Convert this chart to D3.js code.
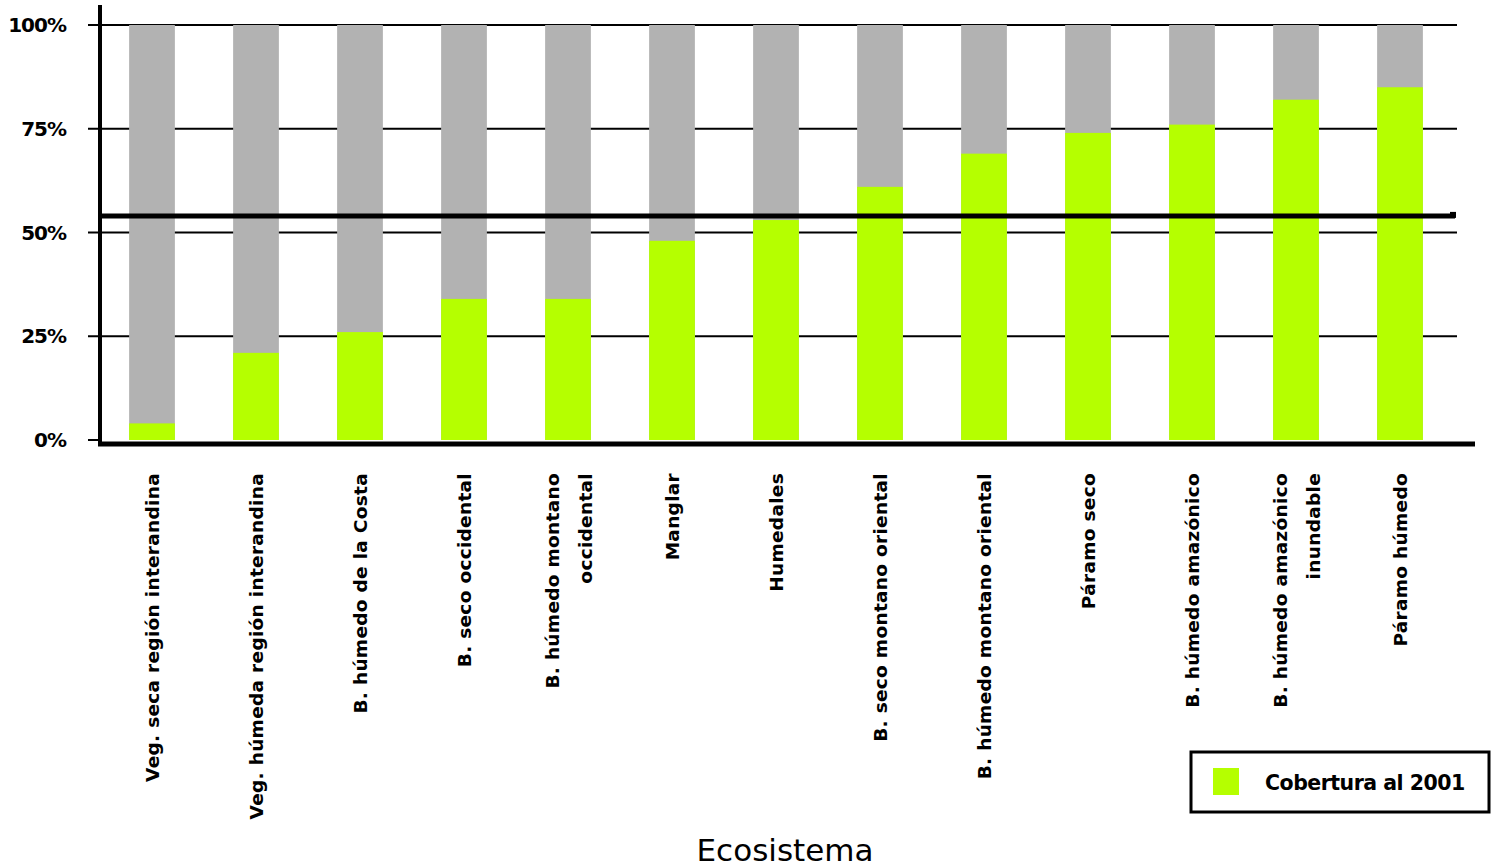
<!DOCTYPE html>
<html>
<head>
<meta charset="utf-8">
<script src="https://cdn.jsdelivr.net/npm/d3@7"></script>
<style>
 body { margin:0; background:#fff; }
 text { font-family: "DejaVu Sans", Tahoma, sans-serif; }
</style>
</head>
<body>
<div id="chart"></div>
<script>

// ecosistemas (some labels go on two lines)
var categorias = [
 ["Veg. seca región interandina"],
 ["Veg. húmeda región interandina"],
 ["B. húmedo de la Costa"],
 ["B. seco occidental"],
 ["B. húmedo montano", "occidental"],
 ["Manglar"],
 ["Humedales"],
 ["B. seco montano oriental"],
 ["B. húmedo montano oriental"],
 ["Páramo seco"],
 ["B. húmedo amazónico"],
 ["B. húmedo amazónico", "inundable"],
 ["Páramo húmedo"]
];

// % cobertura al 2001, rest is gray
var cobertura = [4, 21, 26, 34, 34, 48, 53, 61, 69, 74, 76, 82, 85];

var promedio = 54;

var ticksY = [0, 25, 50, 75, 100];
var tickLabels = ["0%", "25%", "50%", "75%", "100%"];

var serieNombre = "Cobertura al 2001";
var ejeTitulo = "Ecosistema";

var verde = "#b5ff00", gris = "#b2b2b2";

var W = 1493, H = 868;

var svg = d3.select("#chart").append("svg")
 .attr("width", W).attr("height", H);

var x = d3.scaleBand()
 .domain(d3.range(categorias.length))
 .range([100, 1452])
 .paddingInner(0.56)
 .paddingOuter(0.28);

var y = d3.scaleLinear().domain([0, 100]).range([440, 25]);

// grid lines first so bars sit on top
svg.append("g").selectAll("line")
 .data(ticksY.slice(1))
 .enter().append("line")
 .attr("x1", 88).attr("x2", 1457)
 .attr("y1", function(d){ return y(d); })
 .attr("y2", function(d){ return y(d); })
 .style("stroke", "#000").style("stroke-width", 2);

// gray = 100%
svg.append("g").selectAll("rect")
 .data(cobertura)
 .enter().append("rect")
 .attr("x", function(d, i){ return x(i); })
 .attr("width", x.bandwidth())
 .attr("y", y(100))
 .attr("height", y(0) - y(100))
 .style("fill", gris);

svg.append("g").selectAll("rect")
 .data(cobertura)
 .enter().append("rect")
 .attr("x", function(d, i){ return x(i); })
 .attr("width", x.bandwidth())
 .attr("y", function(d){ return y(d); })
 .attr("height", function(d){ return y(0) - y(d); })
 .style("fill", verde);

// y axis
svg.append("line")
 .attr("x1", 100).attr("x2", 100).attr("y1", 5).attr("y2", 446)
 .style("stroke", "#000").style("stroke-width", 4);

svg.append("g").selectAll("line")
 .data([0])
 .enter().append("line")
 .attr("x1", 88).attr("x2", 100)
 .attr("y1", function(d){ return y(d); }).attr("y2", function(d){ return y(d); })
 .style("stroke", "#000").style("stroke-width", 2);

svg.append("g").selectAll("text")
 .data(ticksY)
 .enter().append("text")
 .attr("x", 66)
 .attr("y", function(d){ return y(d) + 7; })
 .attr("text-anchor", "end")
 .style("font-size", "20px").style("font-weight", "bold")
 .style("letter-spacing", "-1px")
 .text(function(d, i){ return tickLabels[i]; });

// x axis
svg.append("line")
 .attr("x1", 98).attr("x2", 1475).attr("y1", 444).attr("y2", 444)
 .style("stroke", "#000").style("stroke-width", 5);

// average line with its little hook
var prom = svg.append("g");
prom.append("line")
 .attr("x1", 100).attr("x2", 1455)
 .attr("y1", y(promedio)).attr("y2", y(promedio))
 .style("stroke", "#000").style("stroke-width", 5);
prom.append("rect")
 .attr("x", 1450).attr("y", y(promedio) - 4)
 .attr("width", 6).attr("height", 6)
 .style("fill", "#000");

// category labels, rotated
var etiquetas = svg.append("g").selectAll("g")
 .data(categorias)
 .enter().append("g")
 .attr("transform", function(d, i){
   var cx = x(i) + x.bandwidth() / 2;
   return "translate(" + cx + ",473)";
 });

etiquetas.each(function(d){
 var g = d3.select(this);
 var n = d.length;
 d.forEach(function(linea, k){
   var dx = (k - (n - 1) / 2) * 33;
   g.append("text")
    .attr("transform", "translate(" + (dx + 7) + ",0) rotate(-90)")
    .attr("text-anchor", "end")
    .style("font-size", "18.5px").style("font-weight", "bold")
    .style("letter-spacing", "0.3px")
    .text(linea);
 });
});

// axis title
svg.append("text")
 .attr("x", 785).attr("y", 861)
 .attr("text-anchor", "middle")
 .style("font-size", "31px")
 .text(ejeTitulo);

// legend
var ley = svg.append("g");
ley.append("rect")
 .attr("x", 1191).attr("y", 752).attr("width", 298).attr("height", 60)
 .style("fill", "#fff").style("stroke", "#000").style("stroke-width", 3);
ley.append("rect")
 .attr("x", 1213).attr("y", 768).attr("width", 26).attr("height", 27)
 .style("fill", verde);
ley.append("text")
 .attr("x", 1265).attr("y", 790)
 .style("font-size", "20.5px").style("font-weight", "bold")
 .style("letter-spacing", "-0.5px")
 .text(serieNombre);

</script>
</body>
</html>
